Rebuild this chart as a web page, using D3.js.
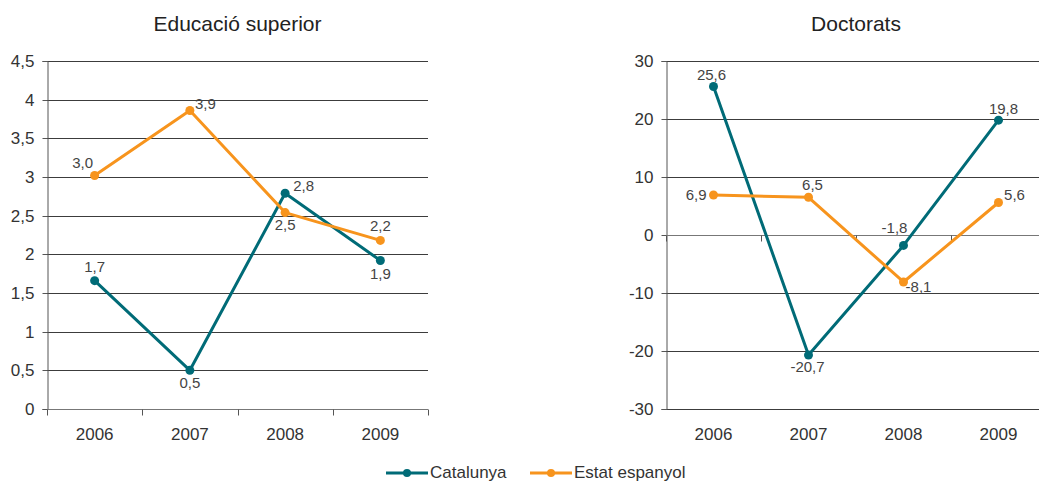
<!DOCTYPE html>
<html><head><meta charset="utf-8">
<script src="https://cdn.jsdelivr.net/npm/d3@7"></script>
<style>
body{margin:0;background:#fff;}
svg{display:block;font-family:"Liberation Sans",Arial,sans-serif;}
</style></head>
<body><svg id="c" width="1039" height="481"></svg>
<script>
// ---- data ----
const years = ["2006","2007","2008","2009"];
const seriesNames = ["Catalunya","Estat espanyol"];
const eduCatalunya = [1.66, 0.5, 2.79, 1.92];
const eduEstat = [3.02, 3.86, 2.54, 2.18];
const docCatalunya = [25.6, -20.7, -1.8, 19.8];
const docEstat = [6.9, 6.5, -8.1, 5.6];
const eduTicks = [0, 0.5, 1, 1.5, 2, 2.5, 3, 3.5, 4, 4.5];
const docTicks = [-30, -20, -10, 0, 10, 20, 30];
const titles = ["Educació superior", "Doctorats"];

// ---- styles / layout ----
const colors = ["#006b77", "#f7941d"];
const locale = d3.formatLocale({decimal: ",", thousands: ".", grouping: [3], currency: ["", "€"], minus: "-"});
const fmt1 = locale.format(".1f");
const fmtTick = d => String(d).replace(".", ",");

// label offsets [dx, dy, anchor] per series per point
const eduLabelPos = [
  [[0, -9, "middle"], [0, 18, "middle"], [8, -2, "start"], [0, 18, "middle"]],
  [[-12, -7, "middle"], [5, -1, "start"], [0, 17, "middle"], [0, -9, "middle"]]
];
const docLabelPos = [
  [[-2, -7, "middle"], [-1, 17, "middle"], [-9, -12, "middle"], [5, -6, "middle"]],
  [[-7, 5, "end"], [4, -7, "middle"], [15, 10, "middle"], [16, -3, "middle"]]
];

const svg = d3.select("#c");
const plotTop = 61, plotBottom = 409;

function panel(cfg) {
  const g = svg.append("g");
  const x = d3.scaleBand().domain(years).range([cfg.x0, cfg.x1]).padding(0);
  const y = d3.scaleLinear().domain(cfg.domain).range([plotBottom, plotTop]);

  // gridlines
  g.append("g").selectAll("line").data(cfg.ticks.filter(t => t !== cfg.axisAt)).join("line")
    .attr("x1", cfg.x0).attr("x2", cfg.x1)
    .attr("y1", d => Math.round(y(d)) + 0.5).attr("y2", d => Math.round(y(d)) + 0.5)
    .attr("stroke", "#3c3c3c").attr("stroke-width", 1);

  // y axis
  const ya = d3.axisLeft(y).tickValues(cfg.ticks).tickSize(5).tickPadding(8).tickFormat(fmtTick);
  const yg = g.append("g").attr("transform", `translate(${cfg.x0 + 0.5},0)`).call(ya);
  yg.select(".domain").attr("stroke", "#555");
  yg.selectAll(".tick line").attr("stroke", "#555");
  yg.selectAll(".tick").attr("transform", d => `translate(0,${Math.round(y(d)) + 0.5})`);
  yg.selectAll("text").attr("font-size", 17).attr("fill", "#333").attr("font-family", "Liberation Sans, Arial, sans-serif");

  // x axis line at axisAt with boundary ticks
  const ay = Math.round(y(cfg.axisAt)) + 0.5;
  g.append("line").attr("x1", cfg.x0).attr("x2", cfg.x1).attr("y1", ay).attr("y2", ay)
    .attr("stroke", "#777").attr("stroke-width", 1);
  const bounds = years.map(d => x(d)).concat([cfg.x1]);
  g.append("g").selectAll("line").data(bounds).join("line")
    .attr("x1", d => Math.round(d) + 0.5).attr("x2", d => Math.round(d) + 0.5)
    .attr("y1", ay).attr("y2", ay + 6).attr("stroke", "#555");

  // x labels at bottom
  const xa = d3.axisBottom(x).tickSize(0).tickPadding(19);
  const xg = g.append("g").attr("transform", `translate(0,${plotBottom})`).call(xa);
  xg.select(".domain").remove();
  xg.selectAll("text").attr("font-size", 17).attr("fill", "#333").attr("font-family", "Liberation Sans, Arial, sans-serif");

  // title
  g.append("text").attr("x", (cfg.x0 + cfg.x1) / 2).attr("y", 31).attr("text-anchor", "middle")
    .attr("font-size", 21).attr("fill", "#222").text(cfg.title);

  // series
  const line = d3.line().x((d, i) => x(years[i]) + x.bandwidth() / 2).y(d => y(d));
  cfg.series.forEach((vals, si) => {
    const sg = g.append("g");
    sg.append("path").datum(vals).attr("d", line).attr("fill", "none")
      .attr("stroke", colors[si]).attr("stroke-width", 3).attr("stroke-linejoin", "round");
    sg.selectAll("circle").data(vals).join("circle")
      .attr("cx", (d, i) => x(years[i]) + x.bandwidth() / 2).attr("cy", d => y(d))
      .attr("r", 4.5).attr("fill", colors[si]);
  });
  cfg.series.forEach((vals, si) => {
    g.append("g").selectAll("text").data(vals).join("text")
      .attr("x", (d, i) => x(years[i]) + x.bandwidth() / 2 + cfg.labelPos[si][i][0])
      .attr("y", (d, i) => y(d) + cfg.labelPos[si][i][1])
      .attr("text-anchor", (d, i) => cfg.labelPos[si][i][2])
      .attr("font-size", 15).attr("fill", "#444").text(d => fmt1(d));
  });
}

panel({x0: 47, x1: 428, domain: [0, 4.5], ticks: eduTicks, axisAt: 0, title: titles[0],
  series: [eduCatalunya, eduEstat], labelPos: eduLabelPos});
panel({x0: 666, x1: 1046, domain: [-30, 30], ticks: docTicks, axisAt: 0, title: titles[1],
  series: [docCatalunya, docEstat], labelPos: docLabelPos});

// legend
const legend = svg.append("g").attr("transform", "translate(0,473)");
const legX = [386, 530];
seriesNames.forEach((n, i) => {
  const lg = legend.append("g").attr("transform", `translate(${legX[i]},0)`);
  lg.append("line").attr("x1", 0).attr("x2", 42).attr("y1", 0).attr("y2", 0)
    .attr("stroke", colors[i]).attr("stroke-width", 3);
  lg.append("circle").attr("cx", 21).attr("cy", 0).attr("r", 4).attr("fill", colors[i]);
  lg.append("text").attr("x", 44).attr("y", 5).attr("font-size", 17).attr("fill", "#333").text(n);
});
</script>
</body></html>
